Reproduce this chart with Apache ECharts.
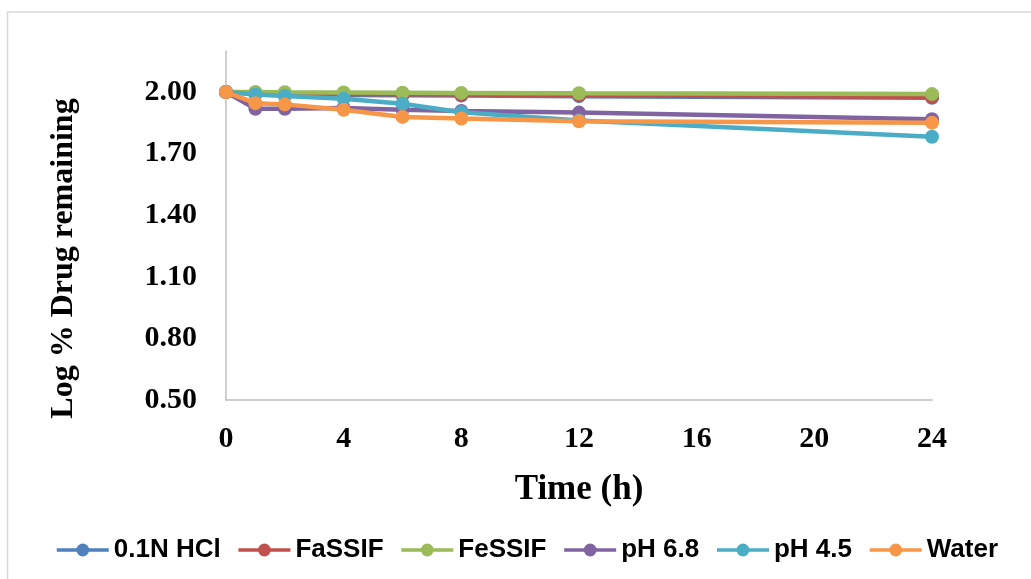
<!DOCTYPE html>
<html>
<head>
<meta charset="utf-8">
<script src="https://cdn.jsdelivr.net/npm/echarts@6/dist/echarts.min.js"></script>
<style>
html,body{margin:0;padding:0;background:#fff;}
#chart{width:1031px;height:579px;}
</style>
</head>
<body>
<div id="chart"></div>
<script>
// Time points (h)
const timePoints = [0, 1, 2, 4, 6, 8, 12, 24];
// Log % drug remaining per medium
const hcl   = [2.000, 1.990, 1.988, 1.986, 1.984, 1.983, 1.980, 1.972];
const fassif = [2.000, 1.994, 1.993, 1.991, 1.989, 1.988, 1.985, 1.976];
const fessif = [2.000, 2.000, 1.999, 1.998, 1.997, 1.996, 1.994, 1.990];
const ph68  = [2.000, 1.919, 1.919, 1.922, 1.914, 1.908, 1.900, 1.868];
const ph45  = [2.000, 1.988, 1.981, 1.967, 1.943, 1.902, 1.862, 1.782];
const water = [2.000, 1.946, 1.940, 1.914, 1.879, 1.871, 1.858, 1.851];
const seriesNames = ['0.1N HCl', 'FaSSIF', 'FeSSIF', 'pH 6.8', 'pH 4.5', 'Water'];
const seriesValues = [hcl, fassif, fessif, ph68, ph45, water];
const colors = ['#4F81BD', '#C0504D', '#9BBB59', '#8064A2', '#4BACC6', '#F79646'];

const chart = echarts.init(document.getElementById('chart'));
const serif = '"Liberation Serif", "Times New Roman", serif';
const sans = '"Liberation Sans", Arial, sans-serif';

chart.setOption({
  animation: false,
  color: colors,
  graphic: [{
    type: 'rect',
    shape: {x: 7.5, y: 12, width: 1040, height: 600},
    style: {fill: 'none', stroke: '#d9d9d9', lineWidth: 1.5},
    silent: true
  }],
  grid: {left: 226, right: 99, top: 51, bottom: 179},
  legend: {
    type: 'plain',
    top: 532,
    left: 50,
    width: 1000,
    itemWidth: 52,
    itemHeight: 16,
    itemGap: 16,
    lineStyle: {width: 3.5},
    textStyle: {fontFamily: sans, fontWeight: 'bold', fontSize: 26, color: '#000'},
    data: seriesNames
  },
  xAxis: {
    type: 'value',
    min: 0, max: 24, interval: 4,
    name: 'Time (h)',
    nameLocation: 'middle',
    nameGap: 72,
    nameTextStyle: {fontFamily: serif, fontWeight: 'bold', fontSize: 35, color: '#000'},
    axisLine: {lineStyle: {color: '#bfbfbf', width: 1.5}},
    axisTick: {show: false},
    splitLine: {show: false},
    axisLabel: {fontFamily: serif, fontWeight: 'bold', fontSize: 30, color: '#000', margin: 24}
  },
  yAxis: {
    type: 'value',
    min: 0.5, max: 2.2, interval: 0.3,
    name: 'Log % Drug remaining',
    nameLocation: 'middle',
    nameRotate: 90,
    nameGap: 146,
    nameTextStyle: {fontFamily: serif, fontWeight: 'bold', fontSize: 32, color: '#000', padding: [0, 66, 0, 0]},
    axisLine: {show: true, lineStyle: {color: '#bfbfbf', width: 1.5}},
    axisTick: {show: false},
    splitLine: {show: false},
    axisLabel: {
      fontFamily: serif, fontWeight: 'bold', fontSize: 30, color: '#000', margin: 29,
      showMaxLabel: false,
      formatter: v => v.toFixed(2)
    }
  },
  series: seriesNames.map((name, i) => ({
    name: name,
    type: 'line',
    data: timePoints.map((t, j) => [t, seriesValues[i][j]]),
    symbol: 'circle',
    symbolSize: 14,
    lineStyle: {width: 4.5, color: colors[i]},
    itemStyle: {color: colors[i]},
    z: 2 + i
  }))
});
</script>
</body>
</html>
